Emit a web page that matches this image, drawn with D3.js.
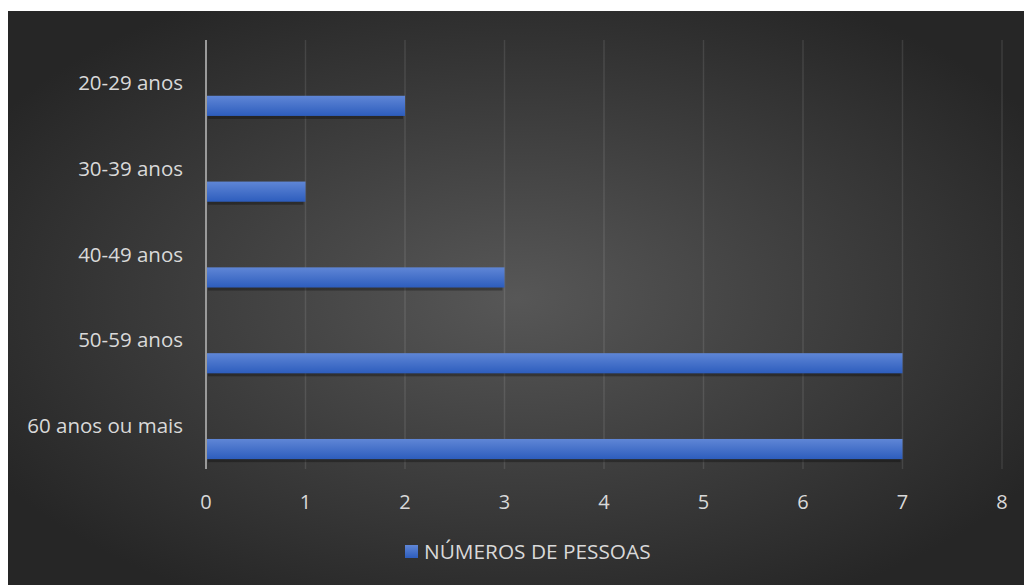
<!DOCTYPE html>
<html>
<head>
<meta charset="utf-8">
<script src="https://cdn.jsdelivr.net/npm/d3@7"></script>
<style>
  body { margin: 0; background: #fff; }
  text { font-family: "Open Sans", "Noto Sans", sans-serif; fill: #d9d9d9; }
</style>
</head>
<body>
<div id="chart"></div>
<script>
// data
const categories = ["20-29 anos", "30-39 anos", "40-49 anos", "50-59 anos", "60 anos ou mais"];
const values = [2, 1, 3, 7, 7];
const xTicks = [0, 1, 2, 3, 4, 5, 6, 7, 8];
const seriesName = "NÚMEROS DE PESSOAS";

const width = 1024;
const height = 585;

const svg = d3.select("#chart")
    .append("svg")
    .attr("width", width)
    .attr("height", height);

const defs = svg.append("defs");

// background radial gradient
const bg = defs.append("radialGradient")
    .attr("id", "bg")
    .attr("cx", "50%").attr("cy", "50%").attr("r", "60%");
bg.append("stop").attr("offset", "0%").attr("stop-color", "#575757");
bg.append("stop").attr("offset", "100%").attr("stop-color", "#262626");

const barGrad = defs.append("linearGradient")
    .attr("id", "bar")
    .attr("x1", 0).attr("y1", 0).attr("x2", 0).attr("y2", 1);
barGrad.append("stop").attr("offset", "0%").attr("stop-color", "#5f86d6");
barGrad.append("stop").attr("offset", "100%").attr("stop-color", "#2d5dbd");

svg.append("rect")
    .attr("x", 8).attr("y", 11)
    .attr("width", width - 8).attr("height", height - 11)
    .attr("fill", "url(#bg)");

const x = d3.scaleLinear()
    .domain([0, 8])
    .range([206, 1002]);

const y = d3.scaleBand()
    .domain(categories)
    .range([40, 469]);

const bw = y.bandwidth();

// gridlines
svg.append("g")
    .selectAll("line")
    .data(xTicks.filter(d => d > 0))
    .enter()
    .append("line")
    .attr("x1", d => x(d)).attr("x2", d => x(d))
    .attr("y1", 40).attr("y2", 469)
    .attr("stroke", "rgba(255,255,255,0.1)")
    .attr("stroke-width", 1.5);

// bar shadows
svg.append("g")
    .selectAll("rect")
    .data(values)
    .enter()
    .append("rect")
    .attr("x", x(0) + 2)
    .attr("y", (d, i) => y(categories[i]) + bw * 0.65 + 3)
    .attr("width", d => x(d) - x(0) - 4)
    .attr("height", bw * 0.235)
    .attr("fill", "rgba(0,0,0,0.3)");

// bars
svg.append("g")
    .selectAll("rect")
    .data(values)
    .enter()
    .append("rect")
    .attr("x", x(0))
    .attr("y", (d, i) => y(categories[i]) + bw * 0.65)
    .attr("width", d => x(d) - x(0))
    .attr("height", bw * 0.235)
    .attr("fill", "url(#bar)");

// zero axis line
svg.append("line")
    .attr("x1", x(0)).attr("x2", x(0))
    .attr("y1", 40).attr("y2", 469)
    .attr("stroke", "#9a9a9a")
    .attr("stroke-width", 2);

// x tick labels
svg.append("g")
    .selectAll("text")
    .data(xTicks)
    .enter()
    .append("text")
    .attr("x", d => x(d))
    .attr("y", 509)
    .attr("text-anchor", "middle")
    .style("font-size", "20px")
    .text(d => d);

// category labels
svg.append("g")
    .selectAll("text")
    .data(categories)
    .enter()
    .append("text")
    .attr("x", 183)
    .attr("y", d => y(d) + bw / 2 + 7)
    .attr("text-anchor", "end")
    .style("font-size", "20.5px")
    .text(d => d);

// legend
svg.append("rect")
    .attr("x", 405).attr("y", 545)
    .attr("width", 13).attr("height", 13)
    .attr("fill", "url(#bar)");

svg.append("text")
    .attr("x", 424)
    .attr("y", 559)
    .style("font-size", "20.8px")
    .text(seriesName);
</script>
</body>
</html>
